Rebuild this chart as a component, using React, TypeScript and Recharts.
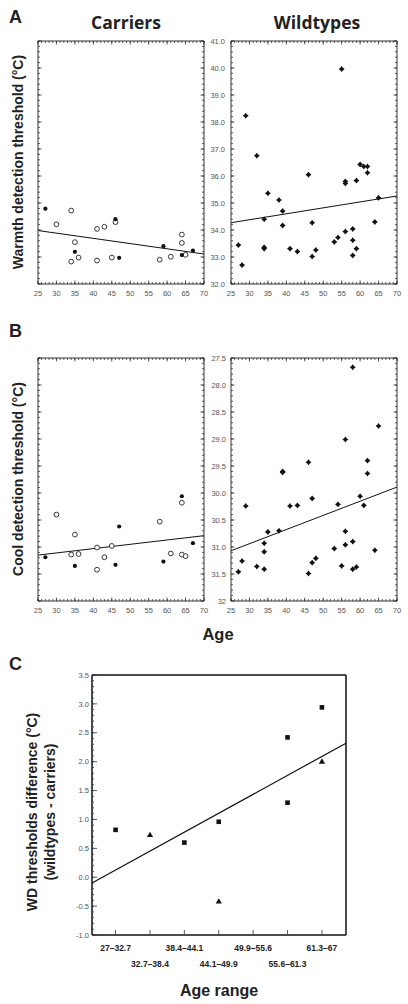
import React from 'react';
import { ScatterChart, Scatter, XAxis, YAxis, ReferenceLine } from 'recharts';

// ---------- Panel A (warmth detection) ----------
const warmCarrierFilledAge = [27, 35, 46, 47, 59, 64, 67];
const warmCarrierFilledVal = [34.79, 33.19, 34.4, 32.97, 33.4, 33.07, 33.24];
const warmCarrierOpenAge = [30, 34, 35, 34, 36, 41, 43, 41, 46, 45, 58, 61, 64, 64, 65];
const warmCarrierOpenVal = [34.21, 34.72, 33.55, 32.83, 32.98, 34.04, 34.12, 32.87, 34.29, 32.98, 32.9, 33.01, 33.83, 33.52, 33.08];
const warmWildAge = [27, 28, 29, 32, 34, 34, 34, 35, 38, 39, 39, 41, 43, 46, 47, 47, 48, 53, 54, 55, 56, 56, 56, 58, 58, 58, 59, 59, 60, 61, 62, 62, 64, 65];
const warmWildVal = [33.44, 32.7, 38.23, 36.75, 34.4, 33.36, 33.31, 35.36, 35.11, 34.7, 34.17, 33.31, 33.2, 36.05, 34.27, 33.02, 33.26, 33.56, 33.72, 39.96, 35.8, 35.72, 33.94, 34.04, 33.62, 33.06, 35.83, 33.31, 36.43, 36.35, 36.35, 36.12, 34.3, 35.19];
const warmCarrierFit = [{ x: 25, y: 33.98 }, { x: 70, y: 33.11 }];
const warmWildFit = [{ x: 25, y: 34.27 }, { x: 70, y: 35.26 }];

// ---------- Panel B (cool detection) ----------
const coolCarrierFilledAge = [27, 35, 46, 47, 59, 64, 67];
const coolCarrierFilledVal = [31.19, 31.35, 31.33, 30.62, 31.27, 30.06, 30.93];
const coolCarrierOpenAge = [30, 35, 34, 36, 41, 41, 43, 45, 58, 61, 64, 64, 65];
const coolCarrierOpenVal = [30.4, 30.77, 31.14, 31.13, 31.01, 31.42, 31.19, 30.98, 30.53, 31.12, 30.18, 31.14, 31.17];
const coolWildAge = [27, 28, 29, 32, 34, 34, 34, 35, 38, 39, 39, 41, 43, 46, 46, 47, 47, 48, 53, 54, 55, 56, 56, 56, 58, 58, 58, 59, 60, 61, 62, 62, 64, 65];
const coolWildVal = [31.46, 31.26, 30.24, 31.36, 31.41, 31.09, 30.93, 30.72, 30.7, 29.6, 29.62, 30.24, 30.23, 29.43, 31.49, 30.1, 31.29, 31.21, 31.03, 30.21, 31.35, 29.01, 30.71, 30.96, 27.67, 30.9, 31.41, 31.37, 30.06, 30.23, 29.4, 29.64, 31.06, 28.76];
const coolCarrierFit = [{ x: 25, y: 31.15 }, { x: 70, y: 30.79 }];
const coolWildFit = [{ x: 25, y: 31.07 }, { x: 70, y: 29.89 }];

// ---------- Panel C (WD difference by age range) ----------
const ageRanges = ['27\u201332.7', '32.7\u201338.4', '38.4\u201344.1', '44.1\u201349.9', '49.9\u201355.6', '55.6\u201361.3', '61.3\u201367'];
const diffSquareIdx = [0, 2, 3, 5, 5, 6];
const diffSquareVal = [0.82, 0.6, 0.96, 2.42, 1.29, 2.94];
const diffTriangleIdx = [1, 3, 6];
const diffTriangleVal = [0.73, -0.42, 2.0];
const diffFit = [{ x: -0.686, y: -0.1 }, { x: 6.7, y: 2.32 }];

// ---------- tick labels ----------
const ageTicks = [25, 30, 35, 40, 45, 50, 55, 60, 65, 70];
const warmTicks = [32, 33, 34, 35, 36, 37, 38, 39, 40, 41];
const coolTicks = [27.5, 28, 28.5, 29, 29.5, 30, 30.5, 31, 31.5, 32];
const diffTicks = [-1, -0.5, 0, 0.5, 1, 1.5, 2, 2.5, 3, 3.5];
const rangeTicks = [0, 1, 2, 3, 4, 5, 6];

const steps = (a: number, b: number, s: number) => {
  const out: number[] = [];
  const n = Math.round((b - a) / s);
  for (let i = 0; i <= n; i++) out.push(Math.round((a + i * s) * 1000) / 1000);
  return out;
};

const zip = (xs: number[], ys: number[]) => xs.map((x, i) => ({ x, y: ys[i] }));

const SANS = "'Liberation Sans', Arial, Helvetica, sans-serif";
const TITLE = "'Open Sans', 'Liberation Sans', Arial, sans-serif";
const tickFont = { fontSize: 7.5, fill: '#555', fontFamily: SANS };

const FilledDot = (p: any) => <circle cx={p.cx} cy={p.cy} r={2.1} fill="#111" />;
const OpenDot = (p: any) => <circle cx={p.cx} cy={p.cy} r={2.4} fill="#fff" stroke="#222" strokeWidth={0.9} />;
const Star = (p: any) => {
  const { cx, cy } = p;
  const o = 3, i = 1.3;
  return (
    <path
      d={`M${cx},${cy - o} L${cx + i},${cy - i} L${cx + o},${cy} L${cx + i},${cy + i} L${cx},${cy + o} L${cx - i},${cy + i} L${cx - o},${cy} L${cx - i},${cy - i} Z`}
      fill="#111"
    />
  );
};
const Square = (p: any) => <rect x={p.cx - 2.3} y={p.cy - 2.3} width={4.6} height={4.6} fill="#111" />;
const Triangle = (p: any) => (
  <path d={`M${p.cx},${p.cy - 3.3} L${p.cx + 3.1},${p.cy + 2} L${p.cx - 3.1},${p.cy + 2} Z`} fill="#111" />
);

const RangeTick = (p: any) => {
  const i = Math.round(p.payload.value);
  return (
    <text x={p.x} y={p.y + (i % 2 ? 16 : 0)} dy="0.71em" textAnchor="middle" fontSize={8.5} fontWeight="bold" fill="#222" fontFamily={SANS}>
      {ageRanges[i]}
    </text>
  );
};

// an invisible tick label: keeps the axis' tick lines drawn
const NoLabel = () => <g />;

type PanelProps = {
  left: number; top: number; w: number; h: number;
  xDomain: [number, number]; xMajor: number[]; xMinor: number[];
  yDomain: [number, number]; yMajor: number[]; yMinor: number[];
  reversed?: boolean;
  xTick: any; yTick: any; yFmt?: (v: number) => string;
  xTickMargin: number; yTickMargin: number;
  frame: string; frameW: number; edgeTicks: boolean; majorSize: number;
  children?: React.ReactNode;
};

const Z = 0.01;

function Panel(props: PanelProps) {
  const { left, top, w, h, xDomain, xMajor, xMinor, yDomain, yMajor, yMinor, reversed, xTick, yTick, yFmt, xTickMargin, yTickMargin, frame, frameW, edgeTicks, majorSize, children } = props;
  const ML = 44, MT = 10, MR = 10, XH = 40;
  const line = { stroke: frame, strokeWidth: frameW };
  const tl = { stroke: '#333', strokeWidth: 0.8 };
  const mn = 2;
  return (
    <div style={{ position: 'absolute', left: left - ML, top: top - MT }}>
      <ScatterChart width={ML + w + MR} height={MT + h + XH} margin={{ top: MT, right: MR, bottom: 0, left: 0 }}>
        <XAxis xAxisId="b" type="number" dataKey="x" domain={xDomain} allowDataOverflow ticks={xMajor} interval={0} height={XH} tickSize={0} tickMargin={xTickMargin} axisLine={false} tickLine={false} tick={xTick} />
        <YAxis yAxisId="l" type="number" dataKey="y" domain={yDomain} allowDataOverflow reversed={reversed} ticks={yMajor} interval={0} width={ML} tickSize={0} tickMargin={yTickMargin} axisLine={false} tickLine={false} tick={yTick} tickFormatter={yFmt} />
        <XAxis xAxisId="bM" type="number" dataKey="x" domain={xDomain} allowDataOverflow ticks={xMajor} interval={0} orientation="bottom" mirror height={Z} tick={NoLabel} tickSize={majorSize} tickLine={tl} axisLine={line} />
        {xMinor.length > 0 && (
          <XAxis xAxisId="bm" type="number" dataKey="x" domain={xDomain} allowDataOverflow ticks={xMinor} interval={0} orientation="bottom" mirror height={Z} tick={NoLabel} tickSize={mn} tickLine={tl} axisLine={false} />
        )}
        <XAxis xAxisId="tM" type="number" dataKey="x" domain={xDomain} allowDataOverflow ticks={xMajor} interval={0} orientation="top" mirror height={Z} tick={NoLabel} tickSize={majorSize} tickLine={edgeTicks ? tl : false} axisLine={line} />
        {edgeTicks && (
          <XAxis xAxisId="tm" type="number" dataKey="x" domain={xDomain} allowDataOverflow ticks={xMinor} interval={0} orientation="top" mirror height={Z} tick={NoLabel} tickSize={mn} tickLine={tl} axisLine={false} />
        )}
        <YAxis yAxisId="lM" type="number" dataKey="y" domain={yDomain} allowDataOverflow reversed={reversed} ticks={yMajor} interval={0} orientation="left" mirror width={Z} tick={NoLabel} tickSize={majorSize} tickLine={tl} axisLine={line} />
        <YAxis yAxisId="lm" type="number" dataKey="y" domain={yDomain} allowDataOverflow reversed={reversed} ticks={yMinor} interval={0} orientation="left" mirror width={Z} tick={NoLabel} tickSize={mn} tickLine={tl} axisLine={false} />
        <YAxis yAxisId="rM" type="number" dataKey="y" domain={yDomain} allowDataOverflow reversed={reversed} ticks={yMajor} interval={0} orientation="right" mirror width={Z} tick={NoLabel} tickSize={majorSize} tickLine={edgeTicks ? tl : false} axisLine={line} />
        {edgeTicks && (
          <YAxis yAxisId="rm" type="number" dataKey="y" domain={yDomain} allowDataOverflow reversed={reversed} ticks={yMinor} interval={0} orientation="right" mirror width={Z} tick={NoLabel} tickSize={mn} tickLine={tl} axisLine={false} />
        )}
        {children}
      </ScatterChart>
    </div>
  );
}

const fmt1 = (v: number) => v.toFixed(1);
const fmtCool = (v: number) => (v === 32 ? '32' : v.toFixed(1));

const fitLine = (seg: { x: number; y: number }[], w = 1) => (
  <ReferenceLine xAxisId="b" yAxisId="l" segment={seg} stroke="#111" strokeWidth={w} ifOverflow="extendDomain" />
);

export default function App() {
  const ageMinor = steps(25, 70, 1);
  const warmMinor = steps(32, 41, 0.2);
  const coolMinor = steps(27.5, 32, 0.1);
  const diffMinor = steps(-1, 3.5, 0.1);
  const common = { xDomain: [25, 70] as [number, number], xMajor: ageTicks, xMinor: ageMinor, xTickMargin: 7, frame: '#333', frameW: 1, edgeTicks: true, majorSize: 3.5 };
  return (
    <div style={{ position: 'absolute', left: 0, top: 0, width: 408, height: 1004, background: '#fff', overflow: 'hidden' }}>
      {/* Panel A - carriers */}
      <Panel {...common} left={38} top={41} w={166} h={243} yDomain={[32, 41]} yMajor={warmTicks} yMinor={warmMinor} xTick={tickFont} yTick={false} yTickMargin={6}>
        {fitLine(warmCarrierFit)}
        <Scatter xAxisId="b" yAxisId="l" data={zip(warmCarrierOpenAge, warmCarrierOpenVal)} shape={OpenDot} isAnimationActive={false} />
        <Scatter xAxisId="b" yAxisId="l" data={zip(warmCarrierFilledAge, warmCarrierFilledVal)} shape={FilledDot} isAnimationActive={false} />
      </Panel>
      {/* Panel A - wildtypes */}
      <Panel {...common} left={231} top={41} w={166} h={243} yDomain={[32, 41]} yMajor={warmTicks} yMinor={warmMinor} xTick={tickFont} yTick={tickFont} yFmt={fmt1} yTickMargin={6}>
        {fitLine(warmWildFit)}
        <Scatter xAxisId="b" yAxisId="l" data={zip(warmWildAge, warmWildVal)} shape={Star} isAnimationActive={false} />
      </Panel>
      {/* Panel B - carriers */}
      <Panel {...common} left={38} top={358} w={166} h={243} yDomain={[27.5, 32]} reversed yMajor={coolTicks} yMinor={coolMinor} xTick={tickFont} yTick={false} yTickMargin={6}>
        {fitLine(coolCarrierFit)}
        <Scatter xAxisId="b" yAxisId="l" data={zip(coolCarrierOpenAge, coolCarrierOpenVal)} shape={OpenDot} isAnimationActive={false} />
        <Scatter xAxisId="b" yAxisId="l" data={zip(coolCarrierFilledAge, coolCarrierFilledVal)} shape={FilledDot} isAnimationActive={false} />
      </Panel>
      {/* Panel B - wildtypes */}
      <Panel {...common} left={231} top={358} w={166} h={243} yDomain={[27.5, 32]} reversed yMajor={coolTicks} yMinor={coolMinor} xTick={tickFont} yTick={tickFont} yFmt={fmtCool} yTickMargin={5}>
        {fitLine(coolWildFit)}
        <Scatter xAxisId="b" yAxisId="l" data={zip(coolWildAge, coolWildVal)} shape={Star} isAnimationActive={false} />
      </Panel>
      {/* Panel C */}
      <Panel left={92} top={675} w={254} h={260} xDomain={[-0.686, 6.7]} xMajor={rangeTicks} xMinor={[]} yDomain={[-1, 3.5]} yMajor={diffTicks} yMinor={diffMinor} xTick={RangeTick} yTick={tickFont} yFmt={fmt1} xTickMargin={10} yTickMargin={3} frame="#111" frameW={1.5} edgeTicks={false} majorSize={5}>
        {fitLine(diffFit, 1.2)}
        <Scatter xAxisId="b" yAxisId="l" data={zip(diffSquareIdx, diffSquareVal)} shape={Square} isAnimationActive={false} />
        <Scatter xAxisId="b" yAxisId="l" data={zip(diffTriangleIdx, diffTriangleVal)} shape={Triangle} isAnimationActive={false} />
      </Panel>

      {/* Text overlay */}
      <svg width={408} height={1004} style={{ position: 'absolute', left: 0, top: 0, pointerEvents: 'none' }}>
        <g fontFamily={SANS} fontWeight="bold" fill="#222">
          <text x={9} y={22.5} fontSize={18}>A</text>
          <text x={9} y={336.5} fontSize={18}>B</text>
          <text x={9} y={669.5} fontSize={18}>C</text>
          <text x={218} y={640} fontSize={16.5} textAnchor="middle">Age</text>
          <text x={219} y={996} fontSize={16} textAnchor="middle">Age range</text>
          <text x={22.5} y={162} fontSize={14} textAnchor="middle" transform="rotate(-90 22.5 162)">Warmth detection threshold (°C)</text>
          <text x={22.5} y={479} fontSize={14} textAnchor="middle" transform="rotate(-90 22.5 479)">Cool detection threshold (°C)</text>
          <text x={37} y={812} fontSize={14} textAnchor="middle" transform="rotate(-90 37 812)">WD thresholds difference (°C)</text>
          <text x={55} y={812} fontSize={14} textAnchor="middle" transform="rotate(-90 55 812)">(wildtypes - carriers)</text>
        </g>
        <g fontFamily={TITLE} fontWeight="bold" fill="#222" fontSize={17.5} textAnchor="middle">
          <text x={126} y={29}>Carriers</text>
          <text x={317} y={29}>Wildtypes</text>
        </g>
      </svg>
    </div>
  );
}
